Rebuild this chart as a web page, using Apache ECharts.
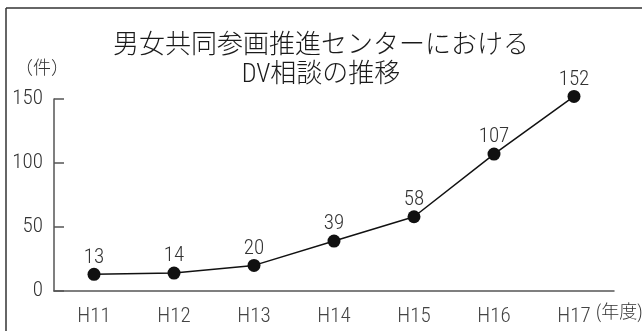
<!DOCTYPE html>
<html>
<head>
<meta charset="utf-8">
<script src="https://cdn.jsdelivr.net/npm/echarts@6/dist/echarts.min.js"></script>
<style>
  html, body { margin: 0; padding: 0; background: #fff; }
  #chart { width: 642px; height: 331px; }
</style>
</head>
<body>
<div id="chart"></div>
<script>
// DV相談件数（年度別）
const years = ['H11', 'H12', 'H13', 'H14', 'H15', 'H16', 'H17'];
const counts = [13, 14, 20, 39, 58, 107, 152];
const yTicks = [0, 50, 100, 150];

const titleLines = ['男女共同参画推進センターにおける', 'DV相談の推移'];
const yUnit = '（件）';
const xUnit = '(年度)';

// narrow sans for numbers, CJK gothic for Japanese
const FONT = "Roboto, 'Noto Sans CJK JP', sans-serif";
const NARROW = '300 semi-condensed';

const chart = echarts.init(document.getElementById('chart'), null, { renderer: 'canvas' });

chart.setOption({
  backgroundColor: '#fff',
  animation: false,
  title: {
    text: titleLines.join('\n'),
    left: 'center',
    top: 27,
    textStyle: {
      fontFamily: FONT,
      fontSize: 26,
      fontWeight: '300 condensed',
      color: '#1a1a1a',
      lineHeight: 29
    }
  },
  grid: { left: 54, right: 28, top: 99, bottom: 40, containLabel: false },
  xAxis: {
    type: 'category',
    data: years,
    boundaryGap: true,
    axisLine: { lineStyle: { color: '#555', width: 1.5 } },
    axisTick: { inside: true, length: 10, lineStyle: { color: '#555', width: 1.5 } },
    axisLabel: { fontFamily: FONT, fontSize: 21, fontWeight: NARROW, color: '#444', margin: 15 },
    splitLine: { show: false }
  },
  yAxis: {
    type: 'value',
    min: yTicks[0],
    max: yTicks[yTicks.length - 1],
    interval: yTicks[1] - yTicks[0],
    axisLine: { show: true, lineStyle: { color: '#555', width: 1.5 } },
    axisTick: { show: true, inside: true, length: 10, lineStyle: { color: '#555', width: 1.5 } },
    axisLabel: { fontFamily: FONT, fontSize: 21, fontWeight: NARROW, color: '#333', margin: 11 },
    splitLine: { show: false }
  },
  series: [{
    type: 'line',
    data: counts,
    clip: false,
    symbol: 'circle',
    symbolSize: 13,
    itemStyle: { color: '#111' },
    lineStyle: { color: '#111', width: 1.5 },
    label: {
      show: true,
      position: 'top',
      distance: 0,
      fontFamily: FONT,
      fontSize: 21,
      fontWeight: NARROW,
      color: '#333'
    }
  }],
  graphic: [
    // frame: top and left edges
    { type: 'line', shape: { x1: 6, y1: 8, x2: 642, y2: 8 }, style: { stroke: '#333', lineWidth: 1.5 } },
    { type: 'line', shape: { x1: 6, y1: 8, x2: 6, y2: 331 }, style: { stroke: '#333', lineWidth: 1.5 } },
    { type: 'text', left: 15, top: 61, style: { text: yUnit, font: '300 18px ' + FONT, fill: '#333' } },
    { type: 'text', left: 596, top: 305, style: { text: xUnit, font: '300 condensed 18px ' + FONT, fill: '#333' } }
  ]
});
</script>
</body>
</html>
